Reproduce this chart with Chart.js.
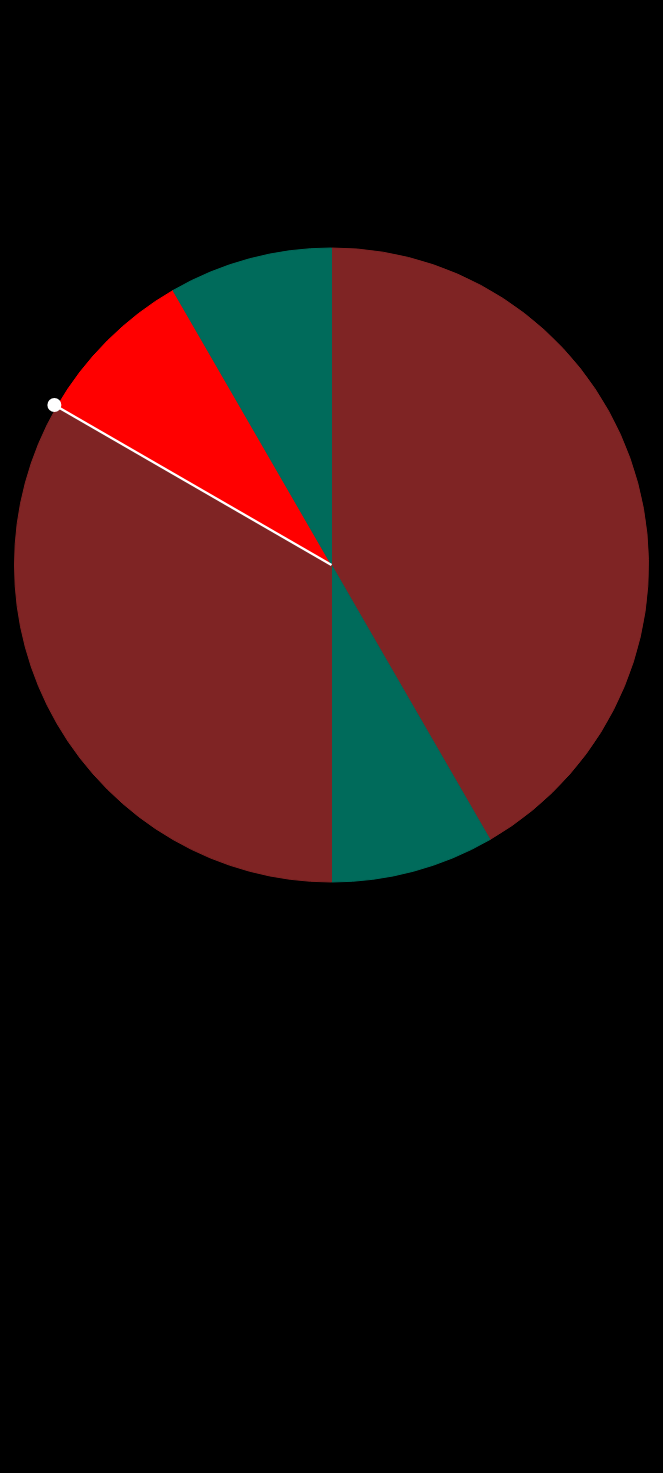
<!DOCTYPE html>
<html>
<head>
<meta charset="utf-8">
<script src="https://cdn.jsdelivr.net/npm/chart.js@4/dist/chart.umd.min.js"></script>
<style>
  html,body{margin:0;padding:0;background:#000;}
  #wrap{position:relative;width:663px;height:1128px;}
</style>
</head>
<body>
<div id="wrap"><canvas id="chart"></canvas></div>
<script>
// slices, clockwise from 12 o'clock
const labels = ['A','B','C','D','E'];
const values = [5, 1, 4, 1, 1];
const colors = ['#7f2424','#006b5b','#7f2424','#ff0000','#006b5b'];
// the needle sits on the end edge of this slice
const needleIndex = 2;

const needlePlugin = {
  id:'needle',
  afterDatasetsDraw(chart){
    const arc = chart.getDatasetMeta(0).data[needleIndex];
    if(!arc) return;
    const {x, y, outerRadius, endAngle} = arc.getProps(['x','y','outerRadius','endAngle'], true);
    const r = outerRadius + 3;
    const ex = x + Math.cos(endAngle)*r;
    const ey = y + Math.sin(endAngle)*r;
    const ctx = chart.ctx;
    ctx.save();
    ctx.strokeStyle = '#fff';
    ctx.lineWidth = 2.5;
    ctx.beginPath();
    ctx.moveTo(x, y);
    ctx.lineTo(ex, ey);
    ctx.stroke();
    ctx.fillStyle = '#fff';
    ctx.beginPath();
    ctx.arc(ex, ey, 7, 0, Math.PI*2);
    ctx.fill();
    ctx.restore();
  }
};

window.onload = ()=>{
  new Chart(document.getElementById('chart'),{
    type:'pie',
    data:{labels, datasets:[{data:values, backgroundColor:colors, borderColor:colors, borderWidth:1}]},
    options:{
      responsive:true,
      maintainAspectRatio:false,
      animation:false,
      layout:{padding:{left:14,right:14,top:15,bottom:13}},
      plugins:{legend:{display:false}, tooltip:{enabled:false}}
    },
    plugins:[needlePlugin]
  });
};
</script>
</body>
</html>
